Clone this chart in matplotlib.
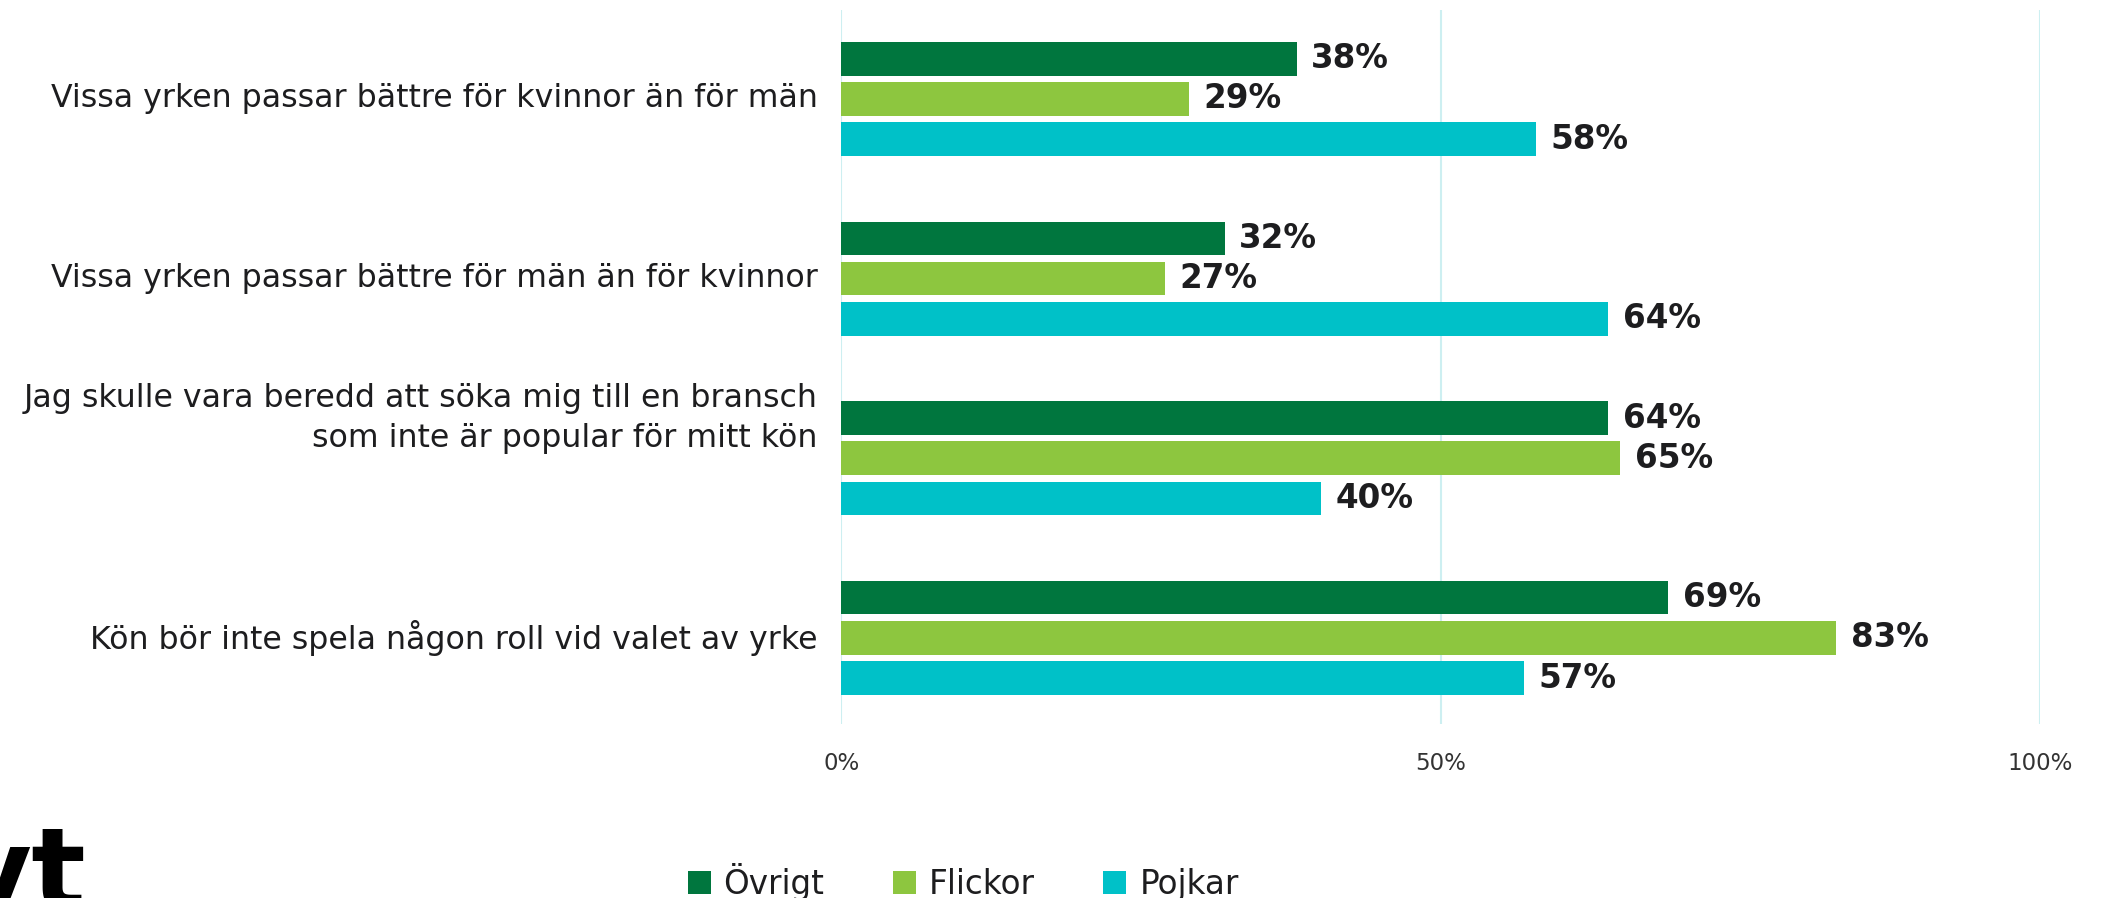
import matplotlib
matplotlib.use("Agg")
import matplotlib.pyplot as plt
import numpy as np

# data
categories = [
    "Vissa yrken passar bättre för kvinnor än för män",
    "Vissa yrken passar bättre för män än för kvinnor",
    "Jag skulle vara beredd att söka mig till en bransch\nsom inte är popular för mitt kön",
    "Kön bör inte spela någon roll vid valet av yrke",
]
series_names = ["Övrigt", "Flickor", "Pojkar"]
ovrigt = [38, 32, 64, 69]
flickor = [29, 27, 65, 83]
pojkar = [58, 64, 40, 57]
x_ticks = [0, 50, 100]
x_ticklabels = ["0%", "50%", "100%"]

colors = ["#00763e", "#8dc63f", "#00c1c8"]
grid_color = "#cdeff1"
text_color = "#1d1d1f"

plt.rcParams['font.family'] = ['DejaVu Sans']

fig = plt.figure(figsize=(21.03, 8.98), dpi=100)
ax = fig.add_axes([0.400, 0.194, 0.570, 0.795])

y = np.arange(len(categories))
step = 0.224
height = 0.187

for k, (name, vals) in enumerate(zip(series_names, [ovrigt, flickor, pojkar])):
    pos = y + (k - 1) * step
    ax.barh(pos, vals, height=height, color=colors[k], label=name, zorder=3)
    for p, v in zip(pos, vals):
        ax.text(v + 1.2, p, f"{v}%", va="center", ha="left",
                fontsize=23.5, fontweight="bold", color=text_color, zorder=4)

ax.set_xlim(0, 100)
ax.set_ylim(3.478, -0.496)
ax.set_xticks(x_ticks)
ax.set_xticklabels(x_ticklabels, fontsize=16.5, color="#333333")
ax.set_yticks(y)
ax.set_yticklabels([])
ax.tick_params(axis="both", length=0)
ax.tick_params(axis="x", pad=20)
for s in ax.spines.values():
    s.set_visible(False)
ax.grid(axis="x", color=grid_color, linewidth=1.5, zorder=0)
ax.grid(axis="y", visible=False)

# category labels, the two-line one sits higher than its bar group
for i, cat in enumerate(categories):
    dy = 28.5 if "\n" in cat else 0
    ax.annotate(cat, xy=(0, y[i]), xycoords=("axes fraction", "data"),
                xytext=(-17, dy), textcoords="offset points",
                ha="right", va="center", multialignment="right",
                fontsize=22.8, color=text_color, linespacing=1.36)

leg = fig.legend(loc="center", bbox_to_anchor=(0.458, 1 - 882 / 898), ncol=3,
                 frameon=False, fontsize=23.5, handlelength=0.7, handleheight=0.7,
                 handletextpad=0.4, columnspacing=2.1)
for t in leg.get_texts():
    t.set_color(text_color)

# partially visible logo in the lower left corner
fig.text(-0.02, -0.012, "yt", fontsize=82, fontweight="black",
         color="black", ha="left", va="baseline")

fig.savefig("out.png", dpi=100)
